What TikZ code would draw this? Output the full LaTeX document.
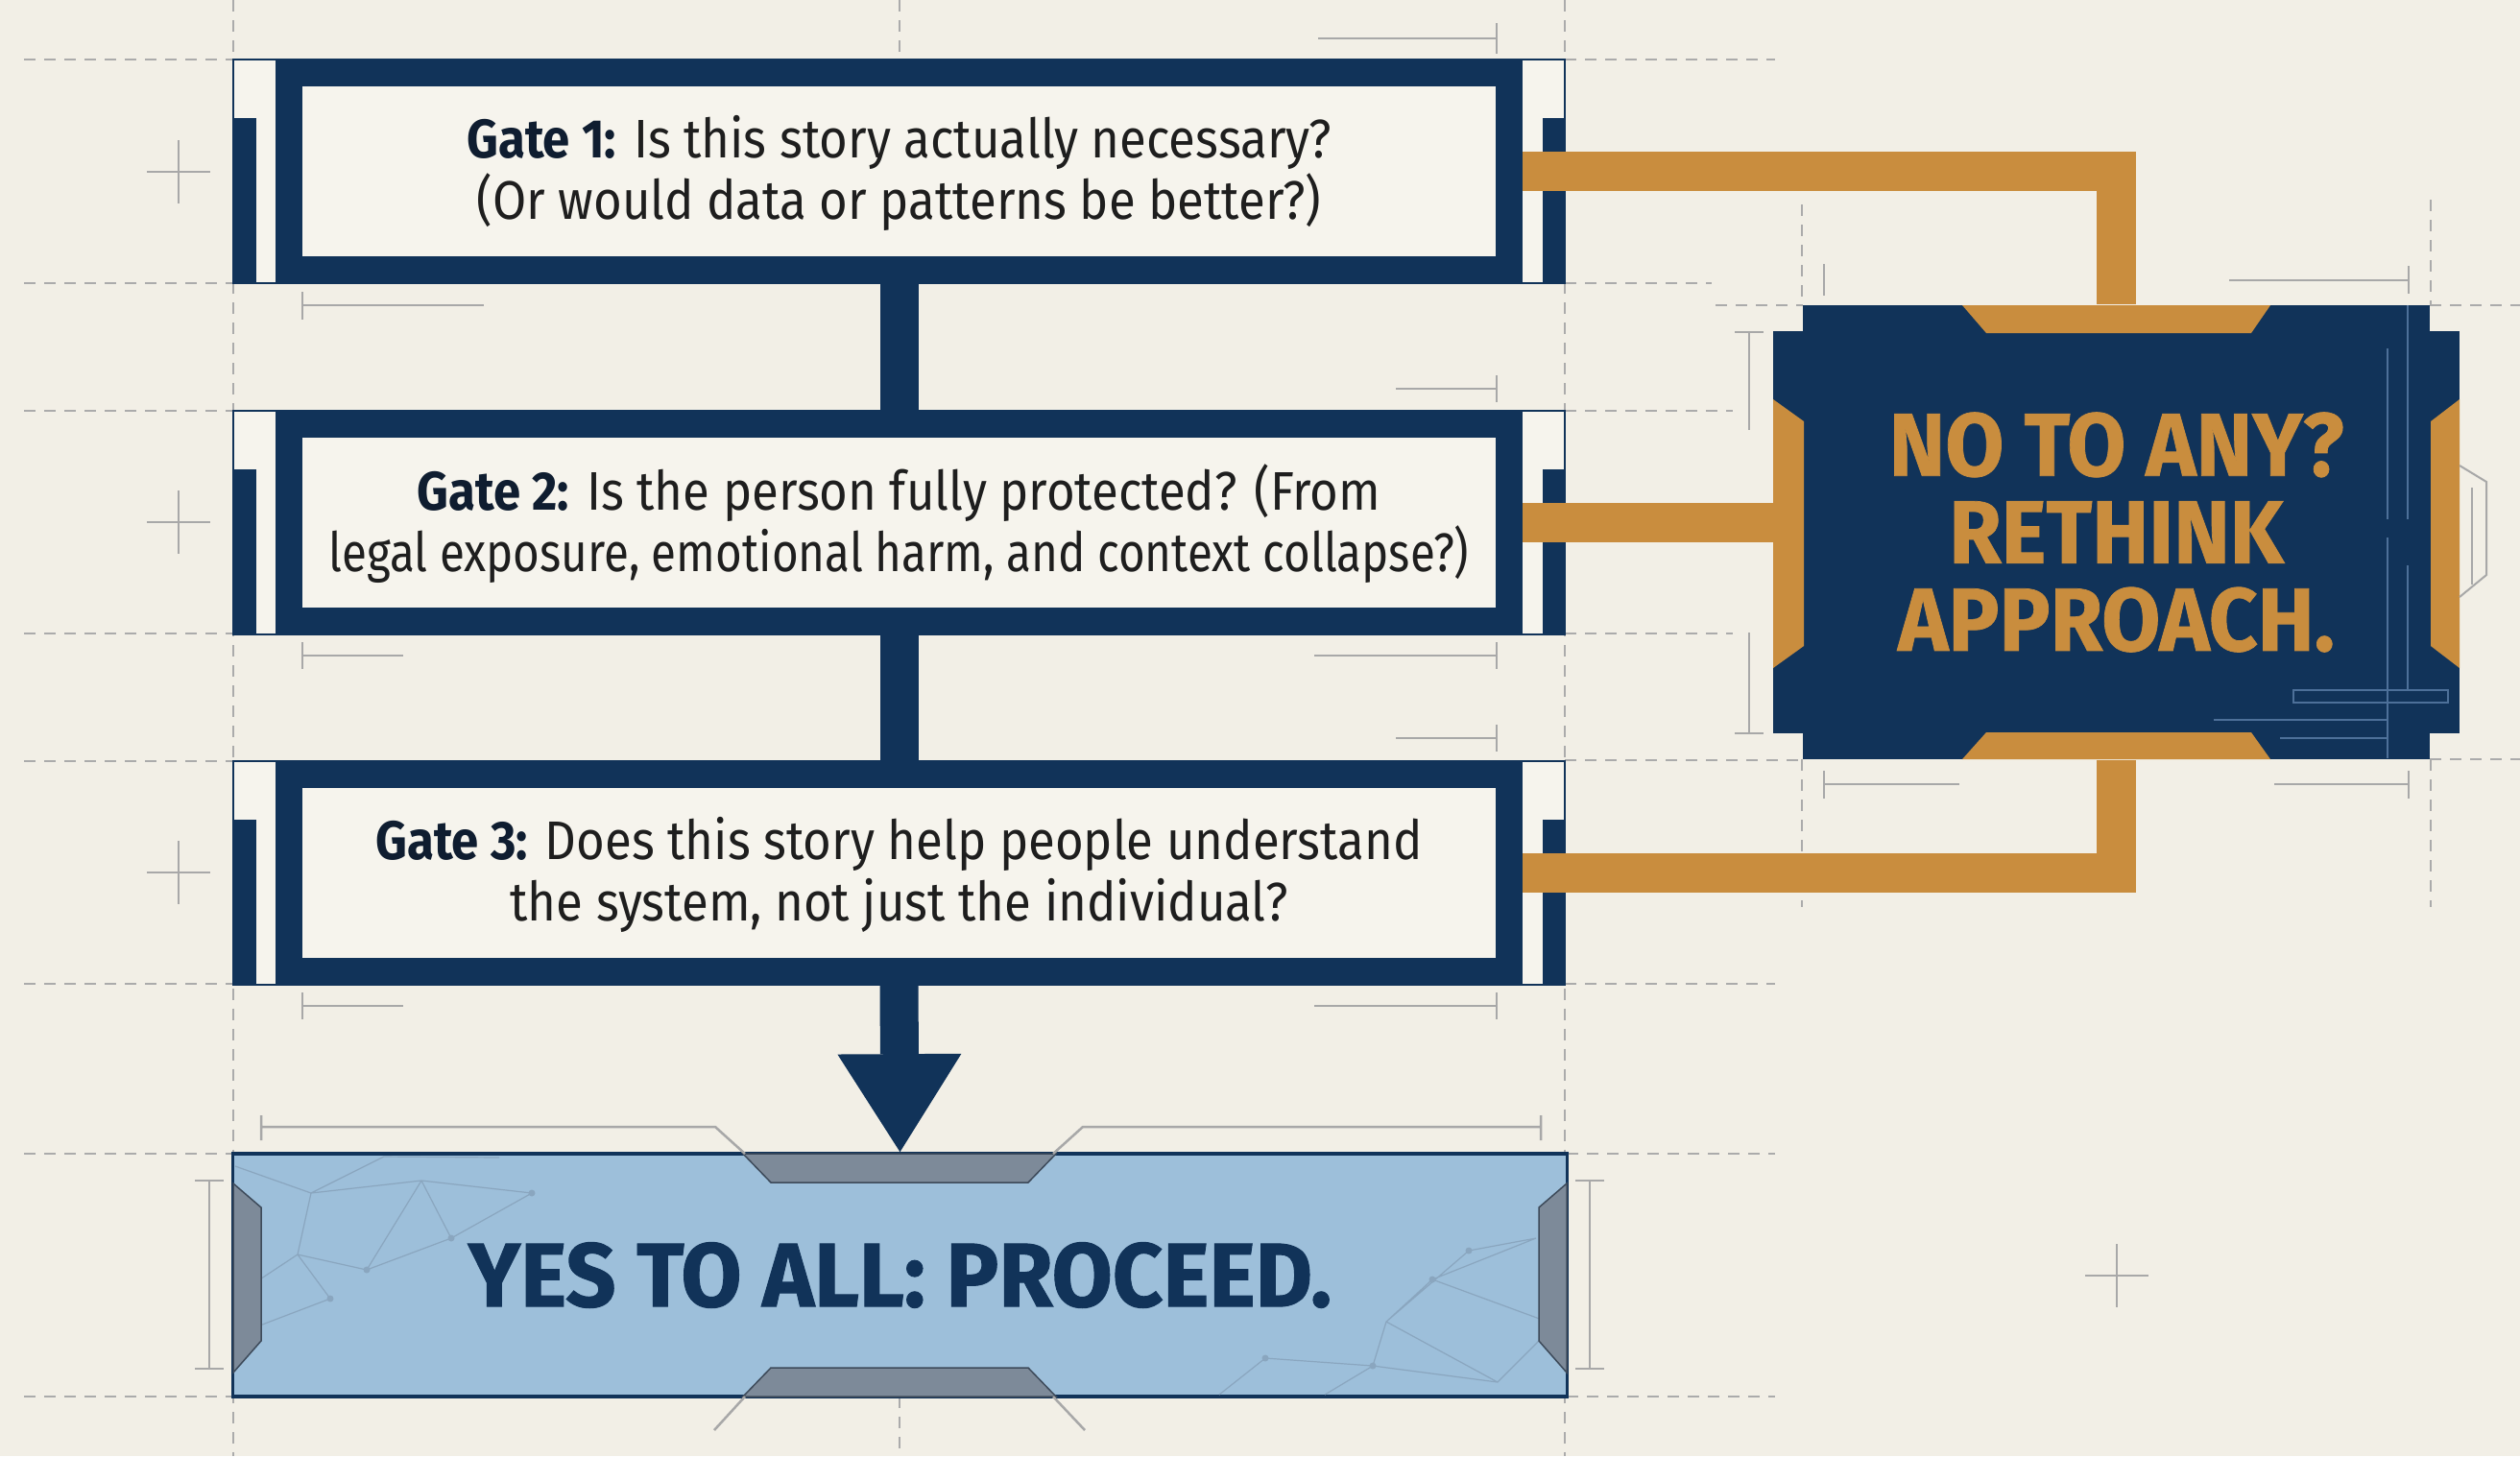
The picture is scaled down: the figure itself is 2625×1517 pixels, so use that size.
\documentclass[tikz,border=0pt]{standalone}
\usepackage{fontspec}
\usetikzlibrary{calc,arrows.meta}
\newfontfamily\gatefont[FakeStretch=0.90]{Fira Sans}
\newfontfamily\gatenarrow[FakeStretch=0.84]{Fira Sans}
\newfontfamily\headfont[FakeStretch=0.95, BoldFeatures={FakeBold=0.8}]{Fira Sans}
\newfontfamily\yesfont[FakeStretch=0.97, BoldFeatures={FakeBold=1.0}]{Fira Sans}
\definecolor{bgcream}{HTML}{F2EFE6}
\definecolor{navy}{HTML}{113359}
\definecolor{gold}{HTML}{C98D3E}
\definecolor{lightblue}{HTML}{9DBFDA}
\definecolor{panelcream}{HTML}{F6F4ED}
\definecolor{guidegray}{HTML}{ABABAB}
\definecolor{bargray}{HTML}{A8A8A8}
\definecolor{slate}{HTML}{7D8A99}
\definecolor{slateedge}{HTML}{3D4A5A}
\definecolor{inkblack}{HTML}{1E1E1E}
\definecolor{inknavy}{HTML}{0F1D30}
\definecolor{netline}{HTML}{8AA6BF}
\definecolor{blueprint}{HTML}{4D7099}
\tikzset{
  guide/.style={draw=guidegray, line width=0.02cm, dash pattern=on 0.12cm off 0.09cm},
  scalebar/.style={draw=bargray, line width=0.025cm},
  gatebox/.style={draw=navy, line width=0.28cm, fill=panelcream, minimum width=12.70cm,
    minimum height=2.05cm, inner sep=0pt, align=center,
    font=\gatefont\fontsize{16.1}{18.2}\selectfont, text=inkblack},
  gateframe/.style={fill=panelcream, draw=navy, line width=0.02cm},
  navyconn/.style={draw=navy, line width=0.40cm},
  orangeconn/.style={draw=gold, line width=0.41cm, line join=miter},
  goldpiece/.style={fill=gold},
  slatepiece/.style={fill=slate, draw=slateedge, line width=0.015cm},
  netstyle/.style={draw=netline, line width=0.012cm},
  bpline/.style={draw=blueprint, line width=0.015cm}
}
\newcommand{\gl}[1]{{\color{inknavy}\bfseries #1}}
\begin{document}
\begin{tikzpicture}[x=0.01cm, y=-0.01cm]
\useasboundingbox (0,0) rectangle (2625,1517);
\fill[bgcream] (0,0) rectangle (2625,1517);

% ---- guide lines ----
\draw[guide] (243,0) -- (243,1517);
\draw[guide] (1630,0) -- (1630,1517);
\draw[guide] (936.5,0) -- (936.5,62);
\draw[guide] (936.5,1455) -- (936.5,1517);
\foreach \yy in {62,295,428,660,793,1025,1202,1455}
  \draw[guide] (25,\yy) -- (243,\yy);
\draw[guide] (1630,62) -- (1849,62);
\draw[guide] (1630,295) -- (1783,295);
\draw[guide] (1630,428) -- (1805,428);
\draw[guide] (1630,660) -- (1805,660);
\draw[guide] (1630,792) -- (1878,792);
\draw[guide] (1630,1025) -- (1849,1025);
\draw[guide] (1632,1202) -- (1849,1202);
\draw[guide] (1632,1455) -- (1849,1455);
\draw[guide] (1787,318) -- (1878,318);
\draw[guide] (2531,318) -- (2625,318);
\draw[guide] (2531,791) -- (2625,791);
\draw[guide] (1877,213) -- (1877,318);
\draw[guide] (1877,791) -- (1877,945);
\draw[guide] (2532,208) -- (2532,318);
\draw[guide] (2532,791) -- (2532,945);

% ---- scale bars ----
\draw[scalebar] (1373,40) -- (1559,40) (1559,24) -- (1559,56);
\draw[scalebar] (315,318) -- (504,318) (315,304) -- (315,333);
\draw[scalebar] (1454,405) -- (1559,405) (1559,391) -- (1559,419);
\draw[scalebar] (315,683) -- (420,683) (315,669) -- (315,697);
\draw[scalebar] (1369,683) -- (1559,683) (1559,669) -- (1559,697);
\draw[scalebar] (1454,769) -- (1559,769) (1559,755) -- (1559,783);
\draw[scalebar] (315,1048) -- (420,1048) (315,1034) -- (315,1062);
\draw[scalebar] (1369,1048) -- (1559,1048) (1559,1034) -- (1559,1062);
\draw[scalebar] (218,1230) -- (218,1426) (203,1230) -- (233,1230) (203,1426) -- (233,1426);
\draw[scalebar] (1656,1230) -- (1656,1426) (1641,1230) -- (1671,1230) (1641,1426) -- (1671,1426);
\draw[scalebar] (1822,346) -- (1822,448) (1822,659) -- (1822,764) (1807,346) -- (1837,346) (1807,764) -- (1837,764);
\draw[scalebar] (2322,292) -- (2509,292) (2509,277) -- (2509,306);
\draw[scalebar] (1900,275) -- (1900,308);
\draw[scalebar] (1900,817) -- (2041,817) (1900,803) -- (1900,832);
\draw[scalebar] (2369,817) -- (2509,817) (2509,803) -- (2509,832);

% ---- crosshairs ----
\foreach \cx/\cy in {186/179,186/544,186/909,2205/1329}
  \draw[scalebar] (\cx-33,\cy) -- (\cx+33,\cy) (\cx,\cy-33) -- (\cx,\cy+33);

% ---- gates ----
\foreach \tt in {62,428,793}{
  \draw[gateframe] (243,\tt) rectangle (1630,\tt+233);
  \fill[navy] (243,\tt+61) rectangle (267,\tt+233);
  \fill[navy] (1607,\tt+61) rectangle (1630,\tt+233);
}
\node[gatebox, text depth=0.09cm] (g1) at (936.5,178.5)
  {\gl{Gate 1:} Is this story actually necessary?\\(Or would data or patterns be better?)};
\node[gatebox, text depth=0.09cm] (g2) at (936.5,544.5)
  {\gl{Gate 2:} Is the person fully protected? (From\\{\gatenarrow legal exposure, emotional harm, and context collapse?)}};
\node[gatebox, text depth=0.09cm] (g3) at (936.5,909.5)
  {\gl{Gate 3:} Does this story help people understand\\the system, not just the individual?};

\draw[navyconn] (g1.south) -- (g2.north);
\draw[navyconn] (g2.south) -- (g3.north);

% ---- rethink box ----
\fill[navy] (1847,345) rectangle (2562,764);
\node[fill=navy, minimum width=6.53cm, minimum height=4.73cm, inner sep=0pt, align=center,
      text=gold, font=\headfont\bfseries\fontsize{26.5}{25.9}\selectfont]
  (r) at (2204.5,554.5) {NO TO ANY?\\RETHINK\\APPROACH.};
% blueprint lines inside
\draw[bpline] (2487,363) -- (2487,541) (2487,560) -- (2487,790);
\draw[bpline] (2508,318) -- (2508,541) (2508,589) -- (2508,719);
\draw[bpline] (2389,719) rectangle (2550,732);
\draw[bpline] (2306,750) -- (2487,750) (2375,769) -- (2487,769);
% gold pieces
\fill[goldpiece] (2044,318) -- (2365,318) -- (2345,347) -- (2069,347) -- cycle;
\fill[goldpiece] (2069,763) -- (2345,763) -- (2365,791) -- (2044,791) -- cycle;
\fill[goldpiece] (1847,416) -- (1879,439) -- (1879,673) -- (1847,696) -- cycle;
\fill[goldpiece] (2562,416) -- (2532,439) -- (2532,673) -- (2562,696) -- cycle;
% side tab
\draw[draw=bargray, line width=0.02cm] (2562,485) -- (2590,502) -- (2590,599) -- (2562,622);
\draw[draw=bargray, line width=0.02cm] (2575,508) -- (2575,609);

% ---- orange connectors ----
\draw[orangeconn] (g1.east) -| (r.north);
\draw[orangeconn] (g2.east) -- (g2.east -| r.west);
\draw[orangeconn] (g3.east) -| (r.south);

% ---- yes box ----
\node[fill=lightblue, draw=navy, line width=0.035cm, minimum width=13.89cm, minimum height=2.53cm,
      inner sep=0pt, text=navy, font=\yesfont\bfseries\fontsize{26.8}{30}\selectfont]
  (yes) at (937.5,1328.5) {YES TO ALL: PROCEED.};
% network decoration
\draw[netstyle] (245,1215) -- (324,1243) -- (439,1230) -- (554,1243)
  (324,1243) -- (310,1307) -- (382,1323) -- (439,1230)
  (324,1243) -- (400,1205) -- (520,1206)
  (310,1307) -- (344,1353) -- (260,1385)
  (382,1323) -- (470,1290) -- (554,1243)
  (310,1307) -- (245,1350) (439,1230) -- (470,1290);
\foreach \p in {(554,1243),(382,1323),(344,1353),(470,1290)}
  \fill[netline] \p circle (3.5);
\draw[netstyle] (1530,1303) -- (1600,1290)
  (1530,1303) -- (1444,1377) -- (1492,1333) -- (1620,1380)
  (1444,1377) -- (1430,1423) -- (1318,1415) -- (1270,1453)
  (1430,1423) -- (1380,1453) (1444,1377) -- (1560,1440)
  (1492,1333) -- (1600,1290) (1430,1423) -- (1560,1440) -- (1620,1380);
\foreach \p in {(1530,1303),(1492,1333),(1318,1415),(1430,1423)}
  \fill[netline] \p circle (3.5);
% slate pieces
\draw[slatepiece] (774,1202) -- (1100,1202) -- (1071,1232) -- (803,1232) -- cycle;
\draw[slatepiece] (803,1425) -- (1071,1425) -- (1100,1455) -- (774,1455) -- cycle;
\draw[slatepiece] (243,1233) -- (272,1258) -- (272,1397) -- (243,1430) -- cycle;
\draw[slatepiece] (1632,1233) -- (1603,1258) -- (1603,1397) -- (1632,1430) -- cycle;
% bracket lines
\draw[scalebar] (272,1162) -- (272,1188) (272,1174) -- (745,1174) -- (776,1202);
\draw[scalebar] (1605,1162) -- (1605,1188) (1605,1174) -- (1128,1174) -- (1097,1202);
\draw[scalebar] (776,1455) -- (744,1490) (1097,1455) -- (1130,1490);

% ---- final arrow ----
\draw[navyconn, -{Triangle[length=1.02cm, width=1.29cm, line width=0pt]}] (g3.south) -- (yes.north);
\end{tikzpicture}
\end{document}
